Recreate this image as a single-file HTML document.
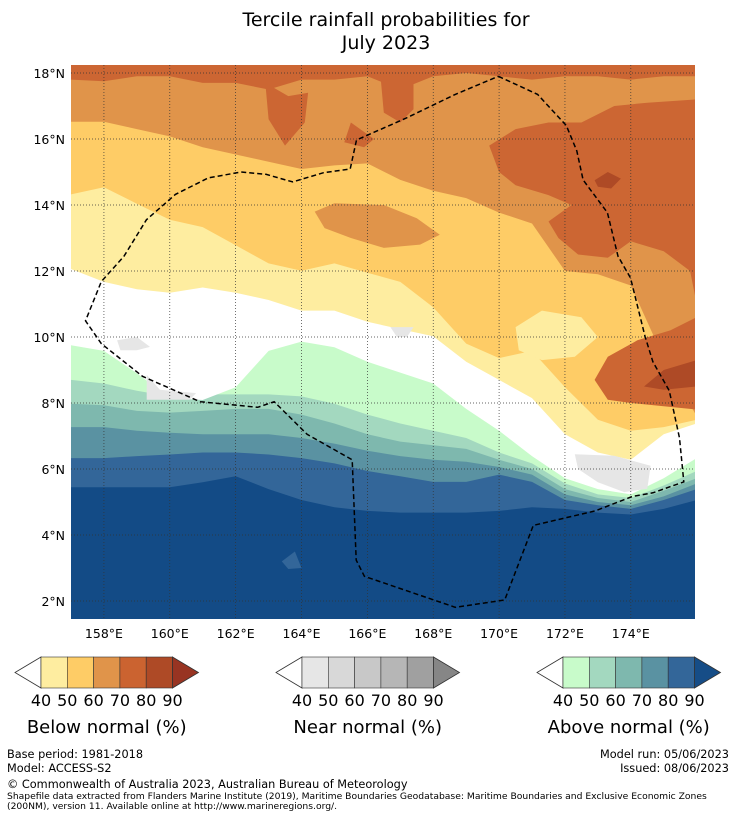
<!DOCTYPE html>
<html><head><meta charset="utf-8"><style>
html,body{margin:0;padding:0;background:#fff;}
svg{display:block;font-family:"DejaVu Sans","Liberation Sans",sans-serif;}
</style></head><body>
<svg id="s" width="736" height="816" viewBox="0 0 736 816" xmlns="http://www.w3.org/2000/svg">
<defs><clipPath id="mapclip"><rect x="71" y="65" width="624" height="554"/></clipPath></defs>
<text x="386" y="26" text-anchor="middle" font-size="19">Tercile rainfall probabilities for</text>
<text x="386" y="49" text-anchor="middle" font-size="19">July 2023</text>
<g id="map" clip-path="url(#mapclip)"></g>
<g id="grid"></g>
<g id="eez"></g>
<g id="axes"></g>
<g id="cbars"></g>
<g font-size="11.3">
<text x="7" y="758">Base period: 1981-2018</text>
<text x="7" y="772">Model: ACCESS-S2</text>
<text x="729" y="758" text-anchor="end">Model run: 05/06/2023</text>
<text x="729" y="772" text-anchor="end">Issued: 08/06/2023</text>
<text x="7" y="788">© Commonwealth of Australia 2023, Australian Bureau of Meteorology</text>
<text x="7" y="799" font-size="9.2">Shapefile data extracted from Flanders Marine Institute (2019), Maritime Boundaries Geodatabase: Maritime Boundaries and Exclusive Economic Zones</text>
<text x="7" y="809" font-size="9.2">(200NM), version 11. Available online at http://www.marineregions.org/.</text>
</g>
</svg>
<script>
const lons = [157,158,159,160,161,162,163,164,165,166,167,168,169,170,171,172,173,174,175,176];
const bA5 = [5.45,5.45,5.45,5.45,5.6,5.78,5.39,5.06,4.84,4.73,4.68,4.68,4.68,4.73,4.84,4.79,4.68,4.62,4.79,5.06];
const bA4 = [6.33,6.33,6.39,6.44,6.5,6.5,6.44,6.33,6.17,5.94,5.78,5.61,5.61,5.83,5.61,5.06,4.9,4.79,5.06,5.39];
const bA3 = [7.27,7.27,7.16,7.1,7.05,7.05,7.05,6.94,6.77,6.55,6.39,6.28,6.22,6.06,5.83,5.23,5.0,4.9,5.17,5.56];
const bA2 = [7.98,7.93,7.76,7.71,7.76,7.82,7.82,7.65,7.38,7.05,6.83,6.72,6.61,6.28,6.0,5.39,5.12,5.0,5.34,5.72];
const bA1 = [8.7,8.59,8.37,8.2,8.26,8.26,8.26,8.2,7.98,7.65,7.38,7.16,6.94,6.5,6.17,5.56,5.23,5.12,5.5,5.94];
const bW  = [9.75,9.58,8.9,8.15,8.09,8.48,9.58,9.86,9.69,9.25,8.92,8.59,7.82,7.16,6.39,5.72,5.39,5.23,5.72,6.33];
const bB1 = [12.06,11.67,11.45,11.34,11.5,11.34,11.12,10.8,10.8,10.46,10.24,10.02,9.25,8.7,8.15,7.05,6.5,6.28,7.05,7.38];
const bB2 = [14.32,14.54,14.04,13.55,13.33,12.78,12.23,12.01,12.23,11.95,11.67,10.9,9.8,9.36,9.58,8.48,7.49,7.16,7.27,7.49];
const bB3 = [16.52,16.52,16.3,16.08,15.75,15.53,15.31,15.09,15.2,15.26,14.76,14.43,14.21,13.77,13.44,12.0,11.9,11.56,9.36,7.6];
const bB4 = [17.8,17.75,17.9,17.9,17.7,17.7,17.5,17.8,17.8,17.9,17.5,17.9,18.0,17.9,17.8,17.9,17.9,17.8,17.9,17.9];
const bandColors = ["#336699","#5a92a2","#7eb8ae","#a3d8bf","#c8fbca","#ffffff","#feeda0","#fecc66","#e0944a","#cc6633"];
const bandNames = ["above-80","above-70","above-60","above-50","above-40","near-normal-white","below-40","below-50","below-60","below-70"];
const patchDark70A = [[162.9,17.7],[163.6,17.3],[164.2,17.4],[164.1,16.5],[163.5,15.8],[163.0,16.6]];
const patchDark70B = [[166.4,17.9],[167.4,17.9],[167.4,16.9],[167.0,16.5],[166.5,16.8]];
const patchDark70C = [[165.5,16.5],[166.2,16.0],[165.9,15.75],[165.3,15.9]];
const patchDark70NE = [[169.7,15.8],[170.5,16.3],[171.5,16.5],[172.5,16.5],[173.5,17.0],[174.5,17.1],[176,17.2],[176,11.0],[175.8,12.0],[175,12.6],[174,12.9],[173.3,12.4],[172.4,12.5],[171.8,13.0],[171.5,13.5],[172.2,14.0],[171.5,14.3],[170.5,14.6],[170,15.0]];
const patchDark70SE = [[172.9,8.7],[173.3,9.4],[174.2,9.9],[175.2,10.2],[176,10.6],[176,7.8],[175,7.9],[174,8.0],[173.3,8.1]];
const patchDark80A = [[174.4,8.5],[175,9.0],[176,9.3],[176,8.5],[175,8.4]];
const patchDark80B = [[172.9,14.75],[173.3,15.0],[173.7,14.8],[173.4,14.5],[173.0,14.55]];
const patch60Mid = [[164.4,13.8],[165,14.05],[166.5,14.0],[167.5,13.6],[168.2,13.1],[167.6,12.8],[166.5,12.7],[165.5,13.0],[164.7,13.3]];
const patch40NE = [[170.5,10.3],[171.3,10.8],[172.5,10.6],[173,10.0],[172.3,9.4],[171.3,9.3],[170.6,9.6]];
const patchGrey1 = [[158.4,9.9],[159.0,10.0],[159.4,9.7],[159.0,9.6],[158.5,9.6]];
const patchGrey2 = [[159.3,8.85],[159.7,8.4],[160.8,8.3],[160.6,8.1],[159.3,8.1]];
const patchGrey3 = [[166.7,10.3],[167.4,10.3],[167.2,10.0],[166.9,10.0]];
const patchGrey4 = [[172.3,6.45],[173.5,6.4],[174.6,6.1],[174.5,5.4],[173.8,5.3],[173.0,5.6],[172.4,6.0]];
const patchBlue1 = [[163.4,3.2],[163.8,3.5],[164.0,3.0],[163.6,2.97]];
const eezLon = [169.98,171.17,172.04,172.36,172.55,173.29,173.61,173.99,174.43,174.67,175.17,175.48,175.61,174.67,174.05,172.92,171.04,170.17,168.67,165.91,165.66,165.54,164.17,163.17,162.67,160.92,159.17,157.92,157.44,157.92,158.61,159.29,160.17,161.17,162.17,162.92,163.73,164.67,165.48,165.67,165.92,167.17,168.67,169.98];
const eezLat = [17.9,17.35,16.41,15.64,14.76,13.77,12.45,11.79,10.02,9.25,8.37,6.94,5.61,5.28,5.17,4.73,4.29,2.03,1.81,2.75,3.24,6.28,7.05,8.04,7.87,8.04,8.81,9.8,10.49,11.68,12.45,13.55,14.32,14.82,15.0,14.93,14.7,14.98,15.09,15.97,16.08,16.63,17.35,17.9];
const lonTicks = [158,160,162,164,166,168,170,172,174];
const latTicks = [18,16,14,12,10,8,6,4,2];
const cbLabels = ["40","50","60","70","80","90"];
const cbBelow = ["#feeda0","#fecc66","#e0944a","#cb6330","#ae4a26","#983422"];
const cbNear = ["#e6e6e6","#d8d8d8","#c8c8c8","#b6b6b6","#a0a0a0","#868686"];
const cbAbove = ["#c8fbca","#a3d8bf","#7eb8ae","#5a92a2","#336699","#164d87"];

const NS="http://www.w3.org/2000/svg";
const X = lon => 71 + (lon-157)*32.93;
const Y = lat => 73 + (18-lat)*33;
function mk(tag, parent, attrs){const e=document.createElementNS(NS,tag);for(const k in attrs)e.setAttribute(k,attrs[k]);parent.appendChild(e);return e;}
const map=document.getElementById('map');
let bg=mk('rect',map,{x:60,y:55,width:650,height:580,fill:'#134b86'});


const bounds=[bA5,bA4,bA3,bA2,bA1,bW,bB1,bB2,bB3,bB4];
bounds.forEach((b,i)=>{
  let pts=lons.map((lo,j)=>X(lo).toFixed(1)+','+Y(b[j]).toFixed(1));
  pts.push(X(177)+','+Y(b[b.length-1]));pts.push(X(177)+','+Y(19));pts.push(X(156)+','+Y(19));pts.push(X(156)+','+Y(b[0]));
  const p=mk('polygon',map,{points:pts.join(' '),fill:bandColors[i]});
  
  
});
function patch(arr,color,name){
  const p=mk('polygon',map,{points:arr.map(q=>X(q[0]).toFixed(1)+','+Y(q[1]).toFixed(1)).join(' '),fill:color});
  
  
}
patch(patch60Mid,'#e0944a','patch-below-60');
patch(patch40NE,'#feeda0','patch-below-40');
patch(patchDark70A,'#cc6633','patch-below-70-a');
patch(patchDark70B,'#cc6633','patch-below-70-b');
patch(patchDark70C,'#cc6633','patch-below-70-c');
patch(patchDark70NE,'#cc6633','patch-below-70-ne');
patch(patchDark70SE,'#cc6633','patch-below-70-se');
patch(patchDark80A,'#ae4a26','patch-below-80-a');
patch(patchDark80B,'#ae4a26','patch-below-80-b');
patch(patchGrey1,'#e6e6e6','patch-near-1');
patch(patchGrey2,'#e6e6e6','patch-near-2');
patch(patchGrey3,'#e6e6e6','patch-near-3');
patch(patchGrey4,'#e6e6e6','patch-near-4');
patch(patchBlue1,'#336699','patch-above-80');

const grid=document.getElementById('grid');
lonTicks.forEach(t=>{const l=mk('line',grid,{x1:X(t),x2:X(t),y1:65,y2:619,stroke:'#333','stroke-width':0.7,'stroke-dasharray':'1,2'});

});
latTicks.forEach(t=>{const l=mk('line',grid,{x1:71,x2:695,y1:Y(t),y2:Y(t),stroke:'#333','stroke-width':0.7,'stroke-dasharray':'1,2'});

});

const eez=document.getElementById('eez');
const ep=mk('polyline',eez,{points:eezLon.map((lo,i)=>X(lo).toFixed(1)+','+Y(eezLat[i]).toFixed(1)).join(' '),fill:'none',stroke:'#000','stroke-width':1.5,'stroke-dasharray':'5,3'});



const axes=document.getElementById('axes');
lonTicks.forEach(t=>{const e=mk('text',axes,{x:X(t),y:638,'text-anchor':'middle','font-size':12.5});e.textContent=t+'°E';

});
latTicks.forEach(t=>{const e=mk('text',axes,{x:65,y:Y(t)+5,'text-anchor':'end','font-size':12.5});e.textContent=t+'°N';

});

const cb=document.getElementById('cbars');
function colorbar(x0,cols,title,name){
  const g=mk('g',cb,{});
  
  
  const w=26.3,y0=657,h=31;
  mk('polygon',g,{points:`${x0-26},${y0+h/2} ${x0},${y0} ${x0},${y0+h}`,fill:'#fff',stroke:'#333','stroke-width':0.8});
  for(let i=0;i<5;i++) mk('rect',g,{x:x0+i*w,y:y0,width:w,height:h,fill:cols[i],stroke:'#333','stroke-width':0.6});
  const xe=x0+5*w;
  mk('polygon',g,{points:`${xe},${y0} ${xe+26},${y0+h/2} ${xe},${y0+h}`,fill:cols[5],stroke:'#333','stroke-width':0.8});
  cbLabels.forEach((s,i)=>{const t=mk('text',g,{x:x0+i*w,y:706,'text-anchor':'middle','font-size':16});t.textContent=s;});
  const tt=mk('text',g,{x:x0+2.5*w,y:733,'text-anchor':'middle','font-size':18});tt.textContent=title;
}
colorbar(41,cbBelow,'Below normal (%)','colorbar-below-normal');
colorbar(302,cbNear,'Near normal (%)','colorbar-near-normal');
colorbar(563,cbAbove,'Above normal (%)','colorbar-above-normal');
</script>
</body></html>
